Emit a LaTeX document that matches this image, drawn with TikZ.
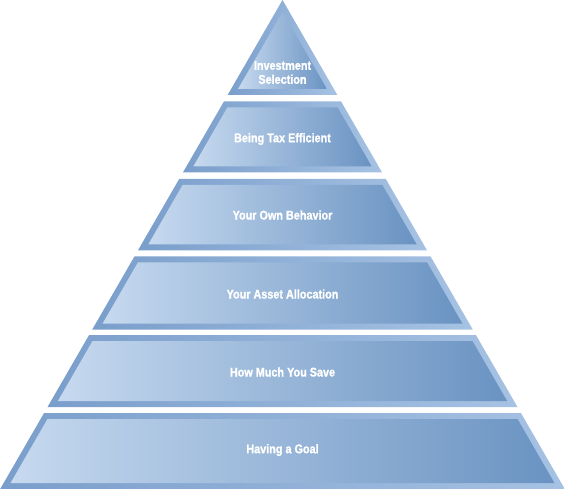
\documentclass[tikz,border=0pt]{standalone}
\usepackage{fontspec}
\newfontfamily\pyrfont[FakeStretch=0.86, FakeBold=1.2]{Liberation Sans Bold}
\usetikzlibrary{calc}
\definecolor{clFrameDark}{HTML}{7A9ECB}
\definecolor{clFrameLight}{HTML}{A6C2E3}
\definecolor{clFillLight}{HTML}{C6D9EF}
\definecolor{clFillDark}{HTML}{6A93C2}
\tikzset{
  frame/.style={left color=clFrameDark, right color=clFrameLight},
  face/.style={left color=clFillLight, right color=clFillDark},
  tier/.style={font=\pyrfont\fontsize{12.6}{14}\selectfont, text=white,
               align=center, inner sep=0pt},
}
% one band of the pyramid, from #1 (top) to #2 (bottom), in px from the apex
\newcommand{\pyrband}[2]{%
  \shade[frame] ({282.5-0.57735*#1},#1) -- ({282.5+0.57735*#1},#1)
    -- ({282.5+0.57735*#2},#2) -- ({282.5-0.57735*#2},#2) -- cycle;
  \shade[face] ({289.4-0.57735*(#1+6)},#1+6) -- ({275.6+0.57735*(#1+6)},#1+6)
    -- ({275.6+0.57735*(#2-6)},#2-6) -- ({289.4-0.57735*(#2-6)},#2-6) -- cycle;
}

\begin{document}
\begin{tikzpicture}[x=1pt, y=-1pt]
  \useasboundingbox (0,0) rectangle (565,489);
  % apex
  \shade[frame] (282.5,0) -- ({282.5+0.57735*95},95) -- ({282.5-0.57735*95},95) -- cycle;
  \shade[face] (282.5,12) -- ({275.6+0.57735*89},89) -- ({289.4-0.57735*89},89) -- cycle;
  \pyrband{101.5}{172.5}
  \pyrband{179}{250.5}
  \pyrband{256.5}{329.5}
  \pyrband{335}{407}
  \pyrband{413}{489}
  \node[tier] (select) at (282.5,72.5) {Investment\\Selection};
  \node[tier] (tax) at (282.5,139) {Being Tax Efficient};
  \node[tier] (behave) at (282.5,215) {Your Own Behavior};
  \node[tier] (alloc) at (282.5,294) {Your Asset Allocation};
  \node[tier] (save) at (282.5,372) {How Much You Save};
  \node[tier] (goal) at (282.5,450) {Having a Goal};
\end{tikzpicture}
\end{document}
